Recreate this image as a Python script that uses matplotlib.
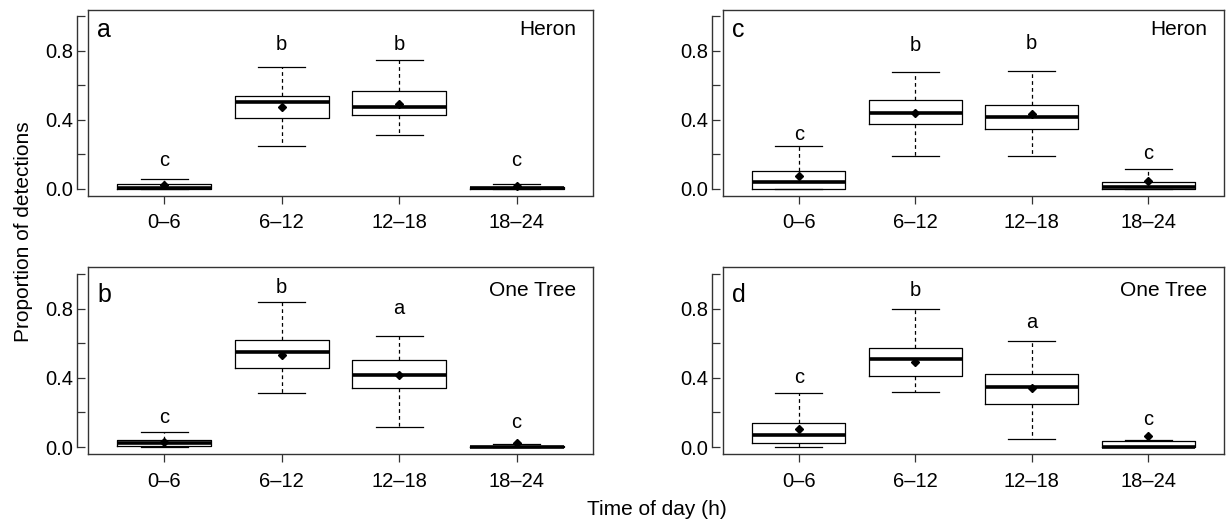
import matplotlib
matplotlib.use("Agg")
import matplotlib.pyplot as plt

plt.rcParams['font.family'] = ['Liberation Sans', 'DejaVu Sans']

categories = ["0–6", "6–12", "12–18", "18–24"]

# Panel a (Heron)
a_lo = [0.0, 0.247, 0.31, 0.0]
a_q1 = [0.0, 0.41, 0.426, 0.0]
a_med = [0.006, 0.501, 0.472, 0.002]
a_q3 = [0.029, 0.536, 0.565, 0.012]
a_hi = [0.054, 0.709, 0.744, 0.027]
a_mean = [0.019, 0.472, 0.49, 0.018]
a_letters = ["c", "b", "b", "c"]
a_letter_y = [0.131, 0.806, 0.806, 0.131]

# Panel b (One Tree)
b_lo = [0.0, 0.312, 0.116, 0.0]
b_q1 = [0.006, 0.457, 0.339, 0.0]
b_med = [0.021, 0.551, 0.416, 0.0]
b_q3 = [0.04, 0.617, 0.505, 0.005]
b_hi = [0.087, 0.84, 0.642, 0.019]
b_mean = [0.029, 0.53, 0.418, 0.025]
b_letters = ["c", "b", "a", "c"]
b_letter_y = [0.141, 0.887, 0.767, 0.112]

# Panel c (Heron)
c_lo = [0.0, 0.191, 0.191, 0.0]
c_q1 = [0.0, 0.376, 0.347, 0.0]
c_med = [0.037, 0.44, 0.418, 0.01]
c_q3 = [0.1, 0.517, 0.486, 0.04]
c_hi = [0.245, 0.679, 0.683, 0.112]
c_mean = [0.071, 0.437, 0.434, 0.044]
c_letters = ["c", "b", "b", "c"]
c_letter_y = [0.285, 0.80, 0.81, 0.17]

# Panel d (One Tree)
d_lo = [0.0, 0.32, 0.045, 0.0]
d_q1 = [0.023, 0.413, 0.25, 0.0]
d_med = [0.068, 0.508, 0.349, 0.0]
d_q3 = [0.141, 0.572, 0.42, 0.035]
d_hi = [0.314, 0.8, 0.614, 0.043]
d_mean = [0.107, 0.494, 0.339, 0.064]
d_letters = ["c", "b", "a", "c"]
d_letter_y = [0.368, 0.872, 0.688, 0.126]

ytick_vals = [0.0, 0.2, 0.4, 0.6, 0.8, 1.0]
ytick_labels = ["0.0", "", "0.4", "", "0.8", ""]

W, H = 1228, 524
fig = plt.figure(figsize=(W / 100, H / 100), dpi=100)

cols = {"L": (88 / W, 505 / W), "R": (723 / W, 501 / W)}
rows = {"T": (1 - 195.5 / H, 186 / H), "B": (1 - 454 / H, 187 / H)}

panels = [
    ("a", "Heron", "L", "T", a_lo, a_q1, a_med, a_q3, a_hi, a_mean, a_letters, a_letter_y),
    ("b", "One Tree", "L", "B", b_lo, b_q1, b_med, b_q3, b_hi, b_mean, b_letters, b_letter_y),
    ("c", "Heron", "R", "T", c_lo, c_q1, c_med, c_q3, c_hi, c_mean, c_letters, c_letter_y),
    ("d", "One Tree", "R", "B", d_lo, d_q1, d_med, d_q3, d_hi, d_mean, d_letters, d_letter_y),
]

frame_col = "#333333"
positions = [1, 2, 3, 4]

for tag, site, c, r, lo, q1, med, q3, hi, mn, letters, ly in panels:
    ax = fig.add_axes([cols[c][0], rows[r][0], cols[c][1], rows[r][1]])
    stats = [dict(whislo=lo[i], q1=q1[i], med=med[i], q3=q3[i], whishi=hi[i],
                  mean=mn[i], fliers=[]) for i in range(len(categories))]
    ax.bxp(stats, positions=positions, widths=0.8, capwidths=0.4,
           showmeans=True, meanline=False, showfliers=False, manage_ticks=False,
           boxprops=dict(color="black", lw=0.9),
           whiskerprops=dict(color="black", lw=0.9, linestyle=(0, (3, 2.5))),
           capprops=dict(color="black", lw=0.9),
           medianprops=dict(color="black", lw=2.6, solid_capstyle="butt"),
           meanprops=dict(marker="D", markerfacecolor="black",
                          markeredgecolor="black", markersize=3.6))
    for p, lt, yv in zip(positions, letters, ly):
        ax.text(p, yv, lt, ha="center", va="baseline", fontsize=14.5)

    ax.set_xlim(0.35, 4.65)
    ax.set_ylim(-0.04, 1.04)
    ax.set_xticks(positions, labels=categories)
    ax.set_yticks(ytick_vals, labels=ytick_labels)
    ax.tick_params(axis="x", direction="out", length=5.8, width=0.9,
                   color=frame_col, pad=7, labelsize=14.5)
    ax.tick_params(axis="y", direction="in", length=5.8, width=0.9,
                   color=frame_col, pad=2.5, labelsize=14.5)

    ax.spines["left"].set_position(("outward", 8))
    ax.spines["left"].set_bounds(0, 1)
    for s in ["left", "right", "top", "bottom"]:
        ax.spines[s].set_color(frame_col)
        ax.spines[s].set_linewidth(1.0)
    ax.plot([0, 0], [0, 1], transform=ax.transAxes, color=frame_col,
            lw=1.0, clip_on=False, solid_capstyle="projecting")

    top_off = 27.5 if r == "T" else 35
    ax.text(0.018, 1 - top_off / (rows[r][1] * H), tag, transform=ax.transAxes,
            ha="left", va="baseline", fontsize=18)
    site_off = 25.5 if r == "T" else 29
    ax.text(0.966, 1 - site_off / (rows[r][1] * H), site, transform=ax.transAxes,
            ha="right", va="baseline", fontsize=15)

fig.text(0.019, 0.557, "Proportion of detections", rotation=90,
         ha="center", va="center", fontsize=15)
fig.text(0.535, 0.027, "Time of day (h)", ha="center", va="center", fontsize=15)

fig.savefig("out.png", dpi=100)
